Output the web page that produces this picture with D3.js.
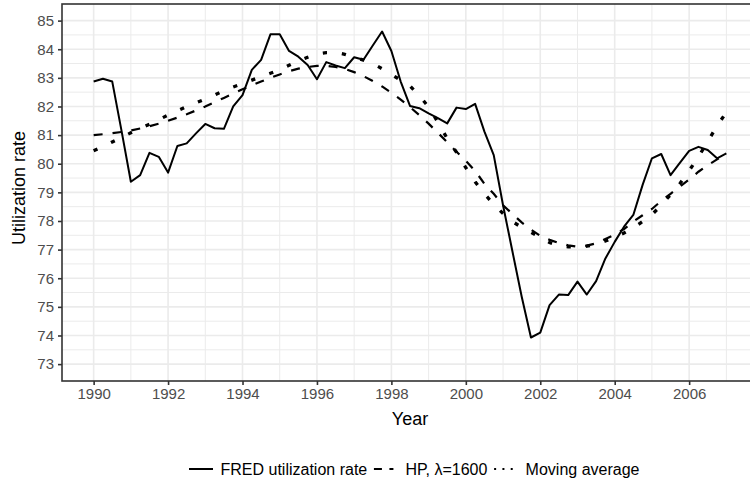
<!DOCTYPE html>
<html>
<head>
<meta charset="utf-8">
<script src="https://cdn.jsdelivr.net/npm/d3@7"></script>
<style>
  html, body { margin: 0; padding: 0; background: #fff; }
  svg { display: block; overflow: hidden; }
  text { font-family: "Liberation Sans", Arial, sans-serif; }
</style>
</head>
<body>
<div id="chart"></div>
<script>
// quarterly observations, 1990Q1 .. 2007Q1
const startYear = 1990;
const fred = [
  82.87, 82.97, 82.87, 81.15,
  79.37, 79.60, 80.38, 80.24,
  79.69, 80.62, 80.71, 81.06,
  81.39, 81.24, 81.22, 82.00,
  82.40, 83.28, 83.63, 84.52,
  84.52, 83.94, 83.74, 83.45,
  82.95, 83.55, 83.43, 83.34,
  83.72, 83.63, 84.13, 84.62,
  83.94, 82.87, 82.02, 81.94,
  81.76, 81.59, 81.41, 81.96,
  81.91, 82.09, 81.12, 80.30,
  78.55, 76.95, 75.36, 73.93,
  74.10, 75.06, 75.43, 75.41,
  75.88, 75.43, 75.90, 76.69,
  77.27, 77.80, 78.21, 79.26,
  80.19, 80.34, 79.60, 80.03,
  80.45, 80.59, 80.48, 80.19,
  80.36
];
const hpTrend = [
  81.00, 81.03, 81.07, 81.11,
  81.16, 81.23, 81.31, 81.40,
  81.50, 81.61, 81.73, 81.86,
  82.00, 82.15, 82.30, 82.45,
  82.60, 82.74, 82.87, 83.00,
  83.12, 83.23, 83.32, 83.38,
  83.42, 83.42, 83.38, 83.31,
  83.20, 83.06, 82.89, 82.70,
  82.48, 82.24, 81.98, 81.70,
  81.40, 81.08, 80.75, 80.42,
  80.10, 79.75, 79.30, 78.95,
  78.55, 78.25, 77.95, 77.70,
  77.48, 77.34, 77.23, 77.15,
  77.10, 77.14, 77.22, 77.37,
  77.52, 77.72, 77.98, 78.20,
  78.42, 78.70, 78.95, 79.20,
  79.45, 79.72, 79.95, 80.15,
  80.36
];
const movingAvg = [
  80.45, 80.60, 80.76, 80.92,
  81.08, 81.23, 81.38, 81.54,
  81.70, 81.85, 82.00, 82.13,
  82.26, 82.40, 82.55, 82.68,
  82.80, 82.92, 83.04, 83.16,
  83.28, 83.44, 83.59, 83.72,
  83.84, 83.88, 83.89, 83.82,
  83.72, 83.62, 83.50, 83.32,
  83.12, 82.92, 82.72, 82.38,
  81.98, 81.45, 80.88, 80.40,
  79.86, 79.37, 78.95, 78.58,
  78.26, 77.98, 77.78, 77.60,
  77.43, 77.25, 77.13, 77.10,
  77.09, 77.12, 77.18, 77.30,
  77.43, 77.58, 77.76, 77.98,
  78.22, 78.55, 78.92, 79.30,
  79.76, 80.24, 80.78, 81.32,
  81.80
];
const xMajorTicks = [1990, 1992, 1994, 1996, 1998, 2000, 2002, 2004, 2006];
const xMinorTicks = [1991, 1993, 1995, 1997, 1999, 2001, 2003, 2005, 2007];
const yTicks = [73, 74, 75, 76, 77, 78, 79, 80, 81, 82, 83, 84, 85];
const seriesNames = ['FRED utilization rate', 'HP, \u03bb=1600', 'Moving average'];

const W = 750, H = 483;
const panel = { left: 62, top: 4, right: 758, bottom: 381 };

const svg = d3.select('#chart').append('svg')
  .attr('width', W)
  .attr('height', H);

const x = d3.scaleLinear()
  .domain([1990 - 0.85, 2007 + 0.85])
  .range([panel.left, panel.right]);
const y = d3.scaleLinear()
  .domain([72.41, 85.58])
  .range([panel.bottom, panel.top]);

// grid
const grid = svg.append('g');
xMinorTicks.forEach(t => {
  grid.append('line')
    .attr('x1', x(t)).attr('x2', x(t))
    .attr('y1', panel.top).attr('y2', panel.bottom)
    .attr('stroke', '#ebebeb').attr('stroke-width', 1);
});
yTicks.slice(0, -1).forEach(t => {
  grid.append('line')
    .attr('x1', panel.left).attr('x2', panel.right)
    .attr('y1', y(t + 0.5)).attr('y2', y(t + 0.5))
    .attr('stroke', '#ebebeb').attr('stroke-width', 1);
});
xMajorTicks.forEach(t => {
  grid.append('line')
    .attr('x1', x(t)).attr('x2', x(t))
    .attr('y1', panel.top).attr('y2', panel.bottom)
    .attr('stroke', '#ebebeb').attr('stroke-width', 1.6);
});
yTicks.forEach(t => {
  grid.append('line')
    .attr('x1', panel.left).attr('x2', panel.right)
    .attr('y1', y(t)).attr('y2', y(t))
    .attr('stroke', '#ebebeb').attr('stroke-width', 1.6);
});

// lines
svg.append('clipPath').attr('id', 'clip')
  .append('rect')
  .attr('x', panel.left).attr('y', panel.top)
  .attr('width', panel.right - panel.left)
  .attr('height', panel.bottom - panel.top);

const line = d3.line()
  .x((d, i) => x(startYear + i / 4))
  .y(d => y(d));

const plot = svg.append('g').attr('clip-path', 'url(#clip)');
plot.append('path').datum(hpTrend)
  .attr('d', line)
  .attr('fill', 'none').attr('stroke', '#000')
  .attr('stroke-width', 2.2)
  .attr('stroke-dasharray', '9,10');
plot.append('path').datum(movingAvg)
  .attr('d', line)
  .attr('fill', 'none').attr('stroke', '#000')
  .attr('stroke-width', 3.3)
  .attr('stroke-dasharray', '4.2,15');
plot.append('path').datum(fred)
  .attr('d', line)
  .attr('fill', 'none').attr('stroke', '#000')
  .attr('stroke-width', 2)
  .attr('stroke-linejoin', 'round');

// panel border
svg.append('rect')
  .attr('x', panel.left).attr('y', panel.top)
  .attr('width', panel.right - panel.left)
  .attr('height', panel.bottom - panel.top)
  .attr('fill', 'none').attr('stroke', '#333333').attr('stroke-width', 1.6);

// axes
const xAxis = svg.append('g')
  .attr('transform', `translate(0,${panel.bottom})`)
  .call(d3.axisBottom(x).tickValues(xMajorTicks).tickFormat(d3.format('d')).tickSize(4).tickPadding(3));
const yAxis = svg.append('g')
  .attr('transform', `translate(${panel.left},0)`)
  .call(d3.axisLeft(y).tickValues(yTicks).tickSize(4).tickPadding(4));
[xAxis, yAxis].forEach(a => {
  a.select('.domain').remove();
  a.selectAll('.tick line').attr('stroke', '#333333').attr('stroke-width', 1.6);
  a.selectAll('.tick text')
    .attr('fill', '#4d4d4d')
    .attr('font-size', '15px')
    .attr('font-family', '"Liberation Sans", Arial, sans-serif');
});

// axis titles
svg.append('text')
  .attr('x', 410).attr('y', 425)
  .attr('text-anchor', 'middle')
  .attr('font-size', '18px')
  .attr('fill', '#000')
  .text('Year');
svg.append('text')
  .attr('transform', 'translate(25,188) rotate(-90)')
  .attr('text-anchor', 'middle')
  .attr('font-size', '18px')
  .attr('fill', '#000')
  .text('Utilization rate');

// legend
const legendStyles = [
  { width: 2, dash: null },
  { width: 2, dash: '8,7.5,4,40' },
  { width: 2.2, dash: '2,6.3' }
];
const legend = svg.append('g');
let lx = 189;
const ly = 469;
seriesNames.forEach((name, i) => {
  const st = legendStyles[i];
  const k = legend.append('line')
    .attr('x1', lx).attr('x2', lx + 24)
    .attr('y1', ly).attr('y2', ly)
    .attr('stroke', '#000').attr('stroke-width', st.width);
  if (st.dash) k.attr('stroke-dasharray', st.dash);
  const t = legend.append('text')
    .attr('x', lx + 31.5).attr('y', ly + 5.5)
    .attr('font-size', '16px')
    .attr('fill', '#000')
    .text(name);
  lx += 31.5 + t.node().getComputedTextLength() + 6.7;
});
</script>
</body>
</html>
